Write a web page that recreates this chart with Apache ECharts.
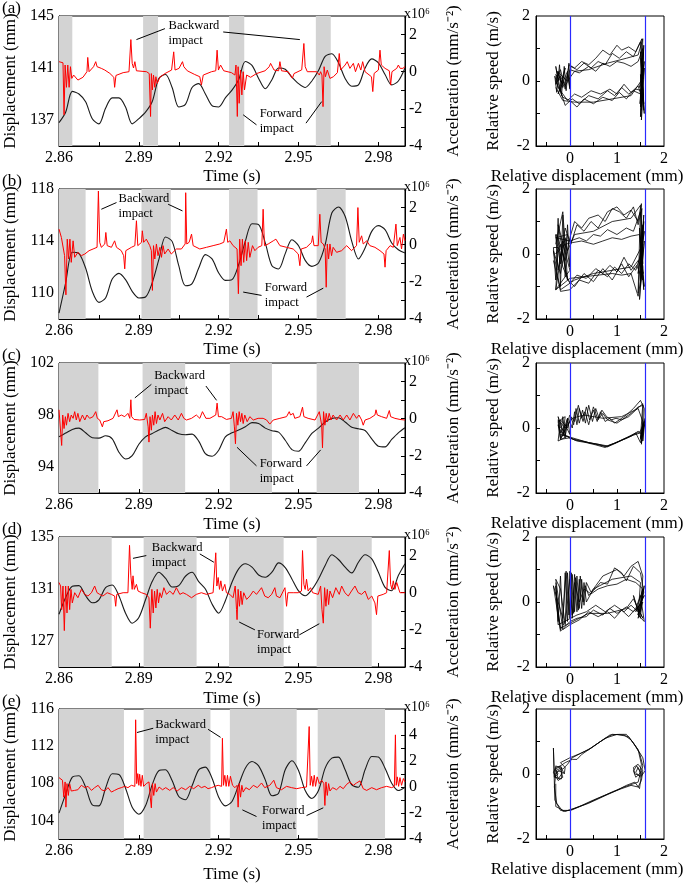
<!DOCTYPE html>
<html><head><meta charset="utf-8">
<script src="https://cdn.jsdelivr.net/npm/echarts@6/dist/echarts.min.js"></script>
<style>html,body{margin:0;padding:0;background:#fff}#c{width:685px;height:883px}</style>
</head><body><div id="c"></div><script>
// ---------------- DATA ----------------
const timeGrid = [2.86,2.8625,2.865,2.8675,2.87,2.8725,2.875,2.8775,2.88,2.8825,2.885,2.8875,2.89,2.8925,2.895,2.8975,2.9,2.9025,2.905,2.9075,2.91,2.9125,2.915,2.9175,2.92,2.9225,2.925,2.9275,2.93,2.9325,2.935,2.9375,2.94,2.9425,2.945,2.9475,2.95,2.9525,2.955,2.9575,2.96,2.9625,2.965,2.9675,2.97,2.9725,2.975,2.9775,2.98,2.9825,2.985,2.9875,2.99];
const timeTicks = [2.86,2.89,2.92,2.95,2.98];
const timeMinor = [2.875,2.89,2.905,2.92,2.935,2.95,2.965,2.98];

const dispA = [136.8,137.6,139.2,139.0,138.4,137.1,136.7,137.9,138.7,138.7,138.0,136.7,137.1,137.6,138.4,140.2,140.5,139.5,138.0,138.2,139.5,139.8,139.0,138.1,138.0,138.7,139.3,140.1,141.5,141.2,140.2,139.4,140.1,141.0,140.9,140.3,139.8,139.5,140.0,140.8,141.9,142.1,141.4,140.2,139.6,139.7,141.0,141.7,141.4,140.5,139.7,140.0,141.0];
const dispB = [108.46,110.77,113.13,113.03,111.92,110.13,109.28,109.62,111.08,111.51,111.03,110.13,109.62,109.69,110.77,112.56,114.31,113.97,112.10,110.56,110.72,111.92,112.95,112.62,111.54,110.97,111.03,112.18,113.97,115.33,115.26,113.85,112.10,111.85,113.03,114.10,113.64,112.51,112.05,112.31,113.72,116.15,116.62,115.90,113.97,112.62,113.46,114.74,115.18,114.87,113.85,113.33,113.08];
const dispC = [96.32,96.61,96.89,96.99,96.63,96.25,96.22,96.40,96.17,95.14,94.62,94.88,95.75,96.32,96.58,96.84,97.05,96.81,96.55,96.48,96.53,95.99,95.03,94.83,95.29,96.32,96.63,96.84,97.10,97.41,97.35,96.99,96.79,96.68,96.06,95.34,95.21,95.86,96.58,96.99,97.46,97.74,97.79,97.46,97.05,96.94,96.81,96.17,95.60,95.55,96.12,96.63,97.02];
const dispD = [129.06,130.35,131.21,131.26,130.48,129.94,130.17,131.10,131.31,130.48,129.14,128.37,128.81,130.17,131.57,132.29,131.83,131.15,131.26,131.98,132.29,131.57,131.00,129.84,129.14,130.10,131.52,132.55,132.94,132.68,132.08,131.90,132.29,133.01,132.65,131.77,130.85,130.48,130.95,131.77,132.81,133.63,133.27,132.68,132.24,133.06,133.63,133.32,132.29,131.13,130.87,132.03,132.94];
const dispE = [104.78,106.83,108.66,108.81,107.58,105.68,105.57,107.47,109.02,108.95,107.47,105.42,104.67,105.57,107.83,109.35,109.45,108.30,106.58,106.22,107.73,109.45,109.74,108.55,106.50,105.57,106.04,107.83,109.63,110.35,109.88,108.37,106.65,106.94,109.45,110.42,109.38,107.22,106.36,107.22,109.63,110.71,110.82,109.45,107.83,107.58,109.45,110.89,110.82,109.63,108.01,107.22,107.58];

const accA = [[2.8600,0.54],[2.8615,0.48],[2.8619,-2.32],[2.8623,0.36],[2.8628,-0.84],[2.8633,0.36],[2.8638,-0.84],[2.8643,0.27],[2.8648,-0.36],[2.8655,-0.18],[2.8671,-0.45],[2.8690,-0.30],[2.8705,0],[2.8708,0.77],[2.8713,0],[2.8730,0.27],[2.8738,0.54],[2.8743,0.27],[2.8759,0.18],[2.8772,0.09],[2.8791,-0.09],[2.8806,-0.3],[2.8809,-0.84],[2.8814,-0.2],[2.8841,-0.05],[2.8863,0],[2.8870,1.73],[2.8875,0.45],[2.8880,0.2],[2.8885,0.54],[2.8891,0.05],[2.8929,0],[2.8939,-0.1],[2.8944,-2.41],[2.8947,-0.1],[2.8951,-0.98],[2.8955,-0.18],[2.8960,-0.84],[2.8964,-0.27],[2.8969,-0.63],[2.8979,-0.3],[2.8998,-0.1],[2.9023,0.09],[2.9031,1.07],[2.9036,0.09],[2.9051,0.18],[2.9064,0.54],[2.9069,0.27],[2.9082,0.05],[2.9110,-0.15],[2.9129,-0.27],[2.9135,-0.72],[2.9142,-0.18],[2.9173,0],[2.9189,0.05],[2.9194,1.16],[2.9199,0.09],[2.9207,0.36],[2.9219,0.05],[2.9248,-0.05],[2.9261,-0.18],[2.9265,0.36],[2.9270,-2.41],[2.9273,0.27],[2.9277,-1.70],[2.9282,0.09],[2.9287,-1.25],[2.9292,0],[2.9297,-0.98],[2.9305,-0.18],[2.9320,-0.3],[2.9342,-0.1],[2.9374,0.05],[2.9390,0.27],[2.9395,0.45],[2.9408,0.09],[2.9425,0.05],[2.9430,0.54],[2.9436,0.05],[2.9461,0],[2.9470,-0.2],[2.9477,-0.35],[2.9483,-0.1],[2.9512,0.1],[2.9520,1.52],[2.9525,0.27],[2.9533,0],[2.9568,0],[2.9578,-0.18],[2.9583,0],[2.9588,-0.18],[2.9592,-1.88],[2.9596,0.27],[2.9601,-0.27],[2.9608,0.09],[2.9618,-0.36],[2.9631,-0.27],[2.9646,-0.05],[2.9653,0.98],[2.9658,0.09],[2.9675,0.36],[2.9683,0.54],[2.9693,0.18],[2.9706,0.45],[2.9714,0],[2.9725,0.45],[2.9734,0.09],[2.9741,0.54],[2.9750,0],[2.9774,-0.27],[2.9779,-1.07],[2.9784,-0.09],[2.9800,0.09],[2.9806,1.16],[2.9811,0.36],[2.9825,0.18],[2.9841,0.05],[2.9846,-0.72],[2.9851,0],[2.9869,0.18],[2.9875,0.36],[2.9882,0.18],[2.9892,0.18],[2.9900,0.27]];
const accB = [[2.8600,0.84],[2.8609,0.39],[2.8615,0.30],[2.8621,-0.59],[2.8626,-2.70],[2.8631,0.30],[2.8636,-0.77],[2.8641,0.30],[2.8646,-0.95],[2.8653,0.21],[2.8659,-0.68],[2.8671,-0.41],[2.8684,-0.59],[2.8697,-0.50],[2.8713,-0.32],[2.8728,-0.23],[2.8743,-0.14],[2.8748,2.89],[2.8753,0.13],[2.8759,-0.14],[2.8772,0.04],[2.8776,0.66],[2.8781,-0.05],[2.8797,-0.14],[2.8809,0.21],[2.8816,-0.14],[2.8834,-0.32],[2.8843,-0.59],[2.8847,-1.30],[2.8851,-0.32],[2.8872,-0.14],[2.8885,-0.05],[2.8891,1.29],[2.8896,-0.05],[2.8910,0.13],[2.8913,0.75],[2.8918,0.13],[2.8928,0.30],[2.8941,-0.05],[2.8947,-0.32],[2.8951,-2.46],[2.8955,-0.05],[2.8960,-0.77],[2.8966,0.04],[2.8972,-0.59],[2.8979,-0.14],[2.8985,-0.68],[2.8991,-0.05],[2.8997,-0.50],[2.9010,-0.23],[2.9022,-0.50],[2.9041,-0.23],[2.9060,-0.23],[2.9074,0.04],[2.9076,2.80],[2.9080,0.04],[2.9089,0.13],[2.9098,0.57],[2.9104,-0.05],[2.9129,-0.23],[2.9154,-0.14],[2.9179,-0.05],[2.9204,0.04],[2.9219,0.13],[2.9229,0.84],[2.9234,0.13],[2.9242,0.21],[2.9254,-0.05],[2.9269,-0.23],[2.9274,-2.64],[2.9279,0.30],[2.9284,-1.13],[2.9289,0.30],[2.9294,-0.95],[2.9300,0.21],[2.9305,-0.86],[2.9311,0.13],[2.9317,-0.68],[2.9327,-0.05],[2.9336,-0.32],[2.9348,-0.14],[2.9362,-0.05],[2.9367,1.91],[2.9372,-0.05],[2.9386,0.04],[2.9405,0.21],[2.9415,0.30],[2.9430,-0.05],[2.9455,-0.14],[2.9480,-0.23],[2.9499,-0.50],[2.9505,-1.13],[2.9510,-0.23],[2.9530,-0.14],[2.9549,0.13],[2.9553,0.48],[2.9558,-0.05],[2.9574,-0.05],[2.9580,1.64],[2.9585,0.13],[2.9593,0.04],[2.9600,-0.23],[2.9604,-2.29],[2.9608,0.04],[2.9613,-0.77],[2.9618,0.04],[2.9624,-0.59],[2.9630,-0.14],[2.9643,-0.41],[2.9662,-0.32],[2.9681,-0.05],[2.9699,-0.32],[2.9718,-0.05],[2.9723,2.00],[2.9728,0.13],[2.9737,0.48],[2.9743,0.04],[2.9756,0.21],[2.9768,-0.05],[2.9787,-0.14],[2.9806,-0.32],[2.9821,-0.50],[2.9825,-1.21],[2.9829,-0.32],[2.9844,-0.05],[2.9856,-0.14],[2.9866,1.11],[2.9871,-0.05],[2.9881,0.39],[2.9887,-0.23],[2.9894,0.57],[2.9900,0.21]];
const accC = [[2.8600,0.48],[2.8606,0.38],[2.8610,-1.44],[2.8614,0.20],[2.8619,-0.53],[2.8624,0.11],[2.8628,-0.35],[2.8634,0.29],[2.8640,-0.16],[2.8646,0.20],[2.8653,0.02],[2.8659,0.38],[2.8665,-0.07],[2.8671,0.29],[2.8678,-0.16],[2.8688,0.20],[2.8697,-0.07],[2.8705,0.20],[2.8715,0.02],[2.8728,0.11],[2.8738,0.38],[2.8744,0.02],[2.8753,-0.07],[2.8763,-0.44],[2.8768,-0.16],[2.8784,-0.11],[2.8803,0.02],[2.8818,0.48],[2.8823,0.11],[2.8834,0.20],[2.8847,0.11],[2.8859,0.29],[2.8866,0.02],[2.8870,1.02],[2.8873,0.11],[2.8882,-0.04],[2.8903,-0.07],[2.8922,-0.04],[2.8928,0.29],[2.8935,-0.44],[2.8938,-1.26],[2.8942,0.11],[2.8947,-0.62],[2.8951,0.20],[2.8956,-0.35],[2.8961,0.38],[2.8966,-0.26],[2.8972,0.20],[2.8979,-0.07],[2.8989,0.29],[2.8997,-0.16],[2.9010,0.11],[2.9022,-0.07],[2.9035,0.20],[2.9048,-0.07],[2.9060,0.29],[2.9069,0.02],[2.9079,-0.07],[2.9098,0.02],[2.9116,0.20],[2.9129,0.02],[2.9139,0.38],[2.9145,0.48],[2.9152,0.02],[2.9167,0.02],[2.9189,0.20],[2.9194,0.84],[2.9199,0.11],[2.9211,0.11],[2.9229,-0.04],[2.9248,0.02],[2.9254,0.38],[2.9259,-0.44],[2.9263,-1.35],[2.9267,0.29],[2.9272,-0.35],[2.9277,0.38],[2.9282,-0.16],[2.9287,0.29],[2.9292,-0.26],[2.9298,0.20],[2.9307,-0.16],[2.9317,0.11],[2.9330,-0.07],[2.9348,0.02],[2.9367,0.02],[2.9380,-0.07],[2.9392,-0.29],[2.9405,-0.07],[2.9430,0.02],[2.9455,0.11],[2.9465,0.38],[2.9470,0.20],[2.9480,0.29],[2.9486,0.02],[2.9505,0.11],[2.9515,0.62],[2.9520,0.11],[2.9536,0.02],[2.9562,-0.07],[2.9578,0.38],[2.9583,0.29],[2.9587,-0.35],[2.9590,-1.57],[2.9594,0.38],[2.9599,-0.35],[2.9604,0.29],[2.9609,-0.16],[2.9615,0.29],[2.9622,-0.07],[2.9630,0.20],[2.9643,-0.07],[2.9656,0.20],[2.9668,-0.07],[2.9681,0.20],[2.9693,-0.07],[2.9706,0.29],[2.9718,0.02],[2.9727,0.20],[2.9737,-0.07],[2.9743,-0.35],[2.9750,-0.07],[2.9768,0.02],[2.9787,0.20],[2.9791,0.48],[2.9796,0.20],[2.9812,0.11],[2.9831,0.02],[2.9841,0.44],[2.9846,0.11],[2.9862,0.02],[2.9881,-0.04],[2.9900,-0.07]];
const accD = [[2.8600,0.55],[2.8606,0.36],[2.8610,-0.91],[2.8615,0.36],[2.8620,-2.04],[2.8625,0.36],[2.8630,-1.09],[2.8635,0.36],[2.8640,-0.91],[2.8645,0.18],[2.8650,-0.55],[2.8659,0],[2.8671,-0.27],[2.8684,0.18],[2.8697,-0.09],[2.8709,-0.18],[2.8722,0],[2.8734,0.36],[2.8743,0],[2.8753,-0.09],[2.8765,-0.18],[2.8781,0],[2.8797,-0.09],[2.8809,-0.18],[2.8813,-0.73],[2.8817,-0.09],[2.8841,0],[2.8859,0],[2.8865,2.55],[2.8870,0.91],[2.8875,0.18],[2.8878,0.91],[2.8883,0.18],[2.8891,0.45],[2.8897,0.09],[2.8910,0],[2.8928,-0.09],[2.8938,-0.27],[2.8943,-1.91],[2.8949,0.18],[2.8954,-1.09],[2.8959,0.09],[2.8964,-0.82],[2.8969,0.18],[2.8974,-0.55],[2.8979,0],[2.8985,-0.27],[2.8994,0.27],[2.9004,-0.09],[2.9016,0.09],[2.9029,-0.09],[2.9041,0.27],[2.9054,-0.09],[2.9066,0],[2.9079,-0.09],[2.9098,-0.27],[2.9116,-0.09],[2.9135,0],[2.9154,-0.09],[2.9179,0],[2.9185,0.09],[2.9189,2.15],[2.9193,0.36],[2.9198,0.82],[2.9203,0.18],[2.9208,0.64],[2.9214,0.09],[2.9223,0.45],[2.9229,0],[2.9242,-0.09],[2.9254,-0.27],[2.9262,0.36],[2.9267,-0.91],[2.9269,-1.45],[2.9273,0.18],[2.9278,-0.73],[2.9283,0.09],[2.9288,-0.64],[2.9294,0],[2.9305,-0.36],[2.9317,-0.18],[2.9330,0.09],[2.9342,-0.09],[2.9361,0.27],[2.9373,-0.18],[2.9386,-0.27],[2.9399,-0.09],[2.9411,0.27],[2.9417,-0.18],[2.9430,-0.27],[2.9449,0.27],[2.9455,-0.73],[2.9460,0],[2.9480,0],[2.9499,0],[2.9511,0.09],[2.9515,2.27],[2.9520,0.45],[2.9525,0.18],[2.9530,0.73],[2.9536,0.09],[2.9545,0.27],[2.9553,0],[2.9574,-0.09],[2.9583,0.36],[2.9588,-0.91],[2.9593,-1.64],[2.9598,0.27],[2.9603,-0.73],[2.9608,0.18],[2.9613,-0.64],[2.9618,0.09],[2.9628,-0.27],[2.9640,0.27],[2.9653,-0.09],[2.9662,0.36],[2.9674,0],[2.9687,-0.18],[2.9699,0.09],[2.9712,0.36],[2.9724,0],[2.9737,-0.09],[2.9750,0.09],[2.9762,-0.36],[2.9775,-0.18],[2.9787,-0.55],[2.9793,-1.18],[2.9798,-0.18],[2.9818,-0.09],[2.9831,0],[2.9841,2.27],[2.9846,0.45],[2.9851,0.18],[2.9856,0.64],[2.9862,0.18],[2.9869,0.55],[2.9881,0],[2.9900,0]];
const accE = [[2.8600,0.72],[2.8613,0.52],[2.8618,-0.78],[2.8623,0.39],[2.8626,-1.55],[2.8630,0.26],[2.8635,-0.65],[2.8640,0.26],[2.8646,-0.31],[2.8659,-0.26],[2.8671,-0.21],[2.8684,0.13],[2.8697,-0.05],[2.8709,0.05],[2.8722,-0.26],[2.8734,-0.05],[2.8747,0.13],[2.8759,-0.21],[2.8772,-0.31],[2.8784,-0.05],[2.8797,-0.39],[2.8809,-0.26],[2.8822,-0.13],[2.8834,-0.05],[2.8847,0.05],[2.8859,-0.05],[2.8872,0.13],[2.8885,0.05],[2.8888,5.17],[2.8892,0.26],[2.8896,1.03],[2.8900,0.13],[2.8903,0.98],[2.8908,0.05],[2.8913,0.90],[2.8918,0.05],[2.8928,0.26],[2.8938,0.39],[2.8943,-0.78],[2.8947,-1.60],[2.8951,0.26],[2.8956,-0.65],[2.8961,0.26],[2.8966,-0.39],[2.8976,0],[2.8989,-0.21],[2.9001,-0.05],[2.9016,-0.26],[2.9029,-0.05],[2.9044,-0.31],[2.9060,-0.05],[2.9076,-0.21],[2.9091,0.05],[2.9106,-0.13],[2.9123,0.13],[2.9135,-0.05],[2.9148,0.05],[2.9160,-0.13],[2.9173,-0.05],[2.9185,0.05],[2.9198,0.13],[2.9211,0.05],[2.9214,3.75],[2.9218,0.13],[2.9223,0.90],[2.9228,0.05],[2.9233,0.90],[2.9238,0.05],[2.9244,0.83],[2.9252,0.13],[2.9261,-0.05],[2.9269,0.13],[2.9273,-1.55],[2.9277,0.26],[2.9282,-0.78],[2.9287,0.13],[2.9292,-0.39],[2.9302,-0.05],[2.9315,-0.21],[2.9330,0.13],[2.9345,-0.05],[2.9361,0.31],[2.9373,-0.05],[2.9392,0.13],[2.9407,0.52],[2.9417,-0.05],[2.9436,-0.21],[2.9455,0.05],[2.9474,-0.05],[2.9493,-0.13],[2.9511,-0.05],[2.9530,0],[2.9536,0.13],[2.9540,4.65],[2.9544,0.13],[2.9549,0.83],[2.9554,0.05],[2.9559,0.90],[2.9564,0.05],[2.9570,0.78],[2.9578,0.26],[2.9587,0.52],[2.9595,0.26],[2.9599,-1.42],[2.9603,0.39],[2.9608,-0.65],[2.9613,0.26],[2.9618,-0.31],[2.9628,-0.05],[2.9643,-0.21],[2.9656,0.05],[2.9668,-0.13],[2.9681,0.21],[2.9693,0.39],[2.9706,0.13],[2.9718,0.31],[2.9731,0.47],[2.9743,-0.13],[2.9756,-0.26],[2.9775,-0.05],[2.9793,-0.21],[2.9812,-0.05],[2.9831,0.05],[2.9850,-0.05],[2.9860,0.05],[2.9864,4.01],[2.9867,0.13],[2.9871,0.78],[2.9876,0.05],[2.9881,0.72],[2.9887,0.13],[2.9894,0.65],[2.9900,0.39]];

const bandsA = [[2.86,2.8650],[2.8916,2.8972],[2.9239,2.9296],[2.9565,2.9621]];
const bandsB = [[2.86,2.8700],[2.8910,2.9020],[2.9239,2.9346],[2.9568,2.9677]];
const bandsC = [[2.86,2.8748],[2.8914,2.9074],[2.9242,2.9400],[2.9568,2.9727]];
const bandsD = [[2.86,2.8798],[2.8918,2.9117],[2.9239,2.9444],[2.9568,2.9775]];
const bandsE = [[2.86,2.8844],[2.8918,2.9169],[2.9242,2.9493],[2.9572,2.9825]];

const phaseA = [[-0.25,0.0],[-0.3,0.45],[-0.2,-0.3],[-0.1,0.4],[-0.25,-0.4],[-0.05,0.3],[0.0,-0.2],[0.02,0.45],[0.15,0.35],[0.3,0.55],[0.45,0.4],[0.6,0.6],[0.75,0.5],[0.9,0.85],[1.05,0.7],[1.2,0.9],[1.35,0.75],[1.5,1.2],[1.56,-0.5],[1.5,0.9],[1.58,-1.0],[1.52,0.6],[1.57,-0.7],[1.5,0.2],[1.55,-0.3],[1.4,-0.25],[1.25,-0.4],[1.1,-0.2],[0.95,-0.45],[0.8,-0.3],[0.6,-0.55],[0.4,-0.45],[0.2,-0.7],[0.05,-0.55],[-0.1,-0.75],[-0.2,-0.3],
 [-0.3,0.2],[-0.15,-0.1],[-0.28,0.3],[-0.05,0.0],[0.0,0.35],[0.2,0.25],[0.4,0.45],[0.55,0.3],[0.7,0.55],[0.85,0.45],[1.0,0.6],[1.15,0.55],[1.3,0.45],[1.45,0.6],[1.55,1.0],[1.5,-0.8],[1.58,0.4],[1.52,-1.2],[1.56,0.5],[1.5,-0.4],[1.35,-0.3],[1.2,-0.55],[1.05,-0.35],[0.9,-0.6],[0.7,-0.5],[0.5,-0.7],[0.3,-0.55],[0.15,-0.8],[0.0,-0.6],[-0.15,-0.5],[-0.3,0.0],
 [-0.2,0.35],[-0.1,-0.25],[-0.02,0.5],[0.1,0.4],[0.25,0.6],[0.4,0.5],[0.55,0.7],[0.7,0.95],[0.85,0.8],[1.0,1.1],[1.1,0.95],[1.25,1.05],[1.4,0.9],[1.53,1.3],[1.5,0.0],[1.57,-0.9],[1.51,0.7],[1.55,-0.6],[1.45,-0.15],[1.3,-0.35],[1.15,-0.1],[1.0,-0.4],[0.85,-0.25],[0.65,-0.4],[0.45,-0.3],[0.25,-0.5],[0.1,-0.4],[-0.05,-0.6],[-0.25,-0.2],[-0.32,0.15],
 [-0.32,0.1],[-0.28,-0.35],[-0.22,0.5],[-0.18,-0.45],[-0.12,0.45],[-0.08,-0.3],[-0.02,0.55],[0.0,-0.25],[-0.05,0.2],[-0.15,-0.2],[-0.25,0.3],[-0.3,-0.1],[-0.2,0.15],[-0.1,-0.15],[0.0,0.1],[0.1,0.3],[0.4,0.35],[0.8,0.55],[1.2,0.7],[1.45,0.8],[1.55,1.3],[1.5,-1.1],[1.57,1.1],[1.52,-0.9],[1.56,0.9],[1.49,-0.7],[1.58,0.6],[1.5,-0.5],[1.55,0.4],[1.48,-0.2],[1.56,0.1],[1.3,-0.45],[0.9,-0.55],[0.5,-0.65],[0.1,-0.65],[-0.15,-0.6],[-0.3,-0.2]];
const phaseB = [[-0.3,0.3],[-0.15,1.3],[-0.05,-0.8],[-0.25,0.9],[0.0,-0.5],[-0.3,-1.1],[-0.1,0.8],[0.02,0.3],[0.15,0.9],[0.3,0.7],[0.45,1.0],[0.6,0.8],[0.8,1.3],[1.0,1.45],[1.15,1.2],[1.3,1.35],[1.45,1.0],[1.52,1.55],[1.5,-0.6],[1.57,1.0],[1.48,-1.4],[1.58,0.4],[1.5,-0.9],[1.55,0.2],[1.4,-0.5],[1.25,-0.3],[1.1,-0.6],[0.95,-0.4],[0.8,-0.7],[0.6,-0.5],[0.4,-0.9],[0.2,-0.8],[0.0,-1.1],[-0.2,-1.15],[-0.35,0.1],
 [-0.2,-0.6],[-0.05,0.6],[-0.3,0.5],[0.0,0.4],[0.2,0.5],[0.35,0.4],[0.5,0.6],[0.65,0.55],[0.8,0.75],[1.0,0.6],[1.2,0.8],[1.35,0.7],[1.5,1.3],[1.55,-0.3],[1.48,0.8],[1.57,-1.1],[1.5,0.5],[1.56,-0.6],[1.45,-0.2],[1.3,-0.5],[1.15,-0.1],[1.0,-0.55],[0.85,-0.35],[0.7,-0.6],[0.55,-0.45],[0.35,-0.75],[0.15,-0.65],[0.0,-0.9],[-0.15,-0.4],[-0.28,0.6],
 [-0.1,-0.2],[0.0,0.5],[0.1,1.0],[0.25,0.8],[0.4,1.1],[0.6,1.2],[0.75,1.0],[0.9,1.4],[1.05,1.3],[1.2,1.1],[1.35,1.45],[1.45,0.9],[1.53,1.4],[1.5,-0.2],[1.58,-1.0],[1.5,0.3],[1.55,-0.8],[1.42,-0.35],[1.25,-0.7],[1.1,-0.3],[0.9,-0.8],[0.7,-0.45],[0.5,-0.85],[0.3,-0.6],[0.1,-1.0],[-0.05,-0.8],[-0.2,0.3],
 [-0.3,0.0],[-0.1,0.3],[0.05,0.35],[0.25,0.4],[0.5,0.3],[0.7,0.4],[0.9,0.5],[1.1,0.45],[1.3,0.55],[1.48,0.6],[1.55,-0.4],[1.45,-1.3],[1.3,-0.6],[1.1,-0.65],[0.9,-0.6],[0.6,-0.65],[0.3,-0.7],[0.0,-0.75],[-0.3,-1.1],[-0.25,0.2],
 [-0.35,0.2],[-0.3,-0.8],[-0.25,1.1],[-0.2,-1.0],[-0.15,1.2],[-0.1,-0.7],[-0.05,0.9],[0.0,-0.4],[-0.1,0.5],[-0.2,-0.3],[-0.3,0.6],[-0.25,-0.5],[-0.15,0.4],[-0.05,0.1],[0.1,0.6],[0.5,0.7],[0.9,1.0],[1.3,1.1],[1.5,1.5],[1.45,-1.2],[1.57,1.2],[1.5,-1.0],[1.55,0.9],[1.45,-0.6],[1.58,0.7],[1.5,-0.3],[1.55,0.3],[1.3,-0.4],[0.9,-0.5],[0.5,-0.6],[0.1,-0.8],[-0.2,-1.1],[-0.35,-0.2]];
const phaseC = [[-0.2,0.0],[-0.25,0.35],[-0.1,-0.3],[-0.05,0.3],[-0.2,-0.35],[0.0,0.2],[0.05,0.0],[0.1,0.5],[0.15,0.1],[0.2,0.6],[0.28,0.2],[0.35,0.65],[0.42,0.25],[0.5,0.55],[0.58,0.2],[0.65,0.5],[0.75,0.2],[0.85,0.3],[0.95,0.15],[1.05,0.25],[1.2,0.4],[1.35,0.6],[1.5,0.85],[1.58,0.6],[1.55,-0.4],[1.6,0.3],[1.52,-0.2],[1.45,-0.1],[1.3,-0.25],[1.1,-0.38],[0.9,-0.5],[0.75,-0.6],[0.55,-0.52],[0.35,-0.45],[0.15,-0.4],[0.0,-0.3],[-0.2,-0.35],
 [-0.25,0.2],[-0.1,0.35],[-0.15,-0.25],[0.0,0.4],[0.08,0.1],[0.13,0.6],[0.2,0.15],[0.27,0.55],[0.33,0.15],[0.4,0.7],[0.48,0.2],[0.55,0.6],[0.62,0.3],[0.7,0.45],[0.8,0.25],[0.9,0.2],[1.0,0.15],[1.15,0.3],[1.3,0.45],[1.45,0.65],[1.56,0.7],[1.52,-0.5],[1.58,0.2],[1.5,-0.15],[1.35,-0.22],[1.15,-0.33],[0.95,-0.47],[0.75,-0.57],[0.55,-0.5],[0.3,-0.42],[0.1,-0.37],[-0.05,-0.25],[-0.25,-0.4],
 [-0.2,0.25],[-0.05,0.0],[0.02,0.35],[0.1,0.2],[0.18,0.7],[0.25,0.3],[0.32,0.5],[0.4,0.1],[0.5,0.65],[0.6,0.25],[0.68,0.55],[0.78,0.35],[0.88,0.25],[0.98,0.3],[1.1,0.25],[1.25,0.35],[1.4,0.55],[1.55,0.75],[1.5,-0.3],[1.57,0.1],[1.5,-0.45],[1.4,-0.15],[1.2,-0.3],[1.0,-0.45],[0.8,-0.58],[0.6,-0.5],[0.4,-0.45],[0.2,-0.38],[0.0,-0.32],[-0.2,-0.1],
 [-0.25,0.1],[-0.2,-0.3],[-0.15,0.35],[-0.1,-0.25],[-0.05,0.3],[0.0,-0.2],[-0.1,0.1],[-0.2,-0.15],[-0.25,0.25],[-0.1,0.0],[0.05,0.3],[0.3,0.4],[0.7,0.3],[1.1,0.35],[1.45,0.6],[1.55,0.2],[1.52,-0.45],[1.58,0.1],[1.5,-0.35],[1.56,0.15],[1.5,-0.1],[1.2,-0.32],[0.8,-0.55],[0.4,-0.45],[0.0,-0.28],[-0.2,-0.2]];
const phaseD = [[-0.3,0.6],[-0.25,-0.3],[-0.2,-0.85],[-0.1,-0.6],[-0.05,0.9],[0.0,-0.5],[0.05,0.85],[0.1,-0.3],[0.15,0.8],[0.2,-0.2],[0.25,0.7],[0.3,-0.1],[0.35,0.6],[0.45,0.3],[0.55,0.5],[0.7,0.8],[0.85,0.9],[1.0,1.0],[1.15,0.8],[1.3,1.1],[1.45,1.25],[1.55,0.8],[1.5,-0.3],[1.58,0.5],[1.45,-0.5],[1.55,0.0],[1.35,-0.3],[1.2,-0.15],[1.0,-0.35],[0.85,-0.2],[0.7,-0.4],[0.5,-0.25],[0.35,-0.45],[0.15,-0.5],[0.0,-0.6],[-0.2,-0.9],[-0.35,0.5],
 [-0.15,-0.5],[-0.08,0.95],[-0.02,-0.4],[0.03,0.9],[0.08,-0.35],[0.12,0.75],[0.18,-0.25],[0.22,0.8],[0.28,0.0],[0.33,0.5],[0.4,0.2],[0.5,0.35],[0.65,0.6],[0.8,0.55],[0.95,1.05],[1.1,0.9],[1.2,0.65],[1.35,1.1],[1.5,0.9],[1.57,0.3],[1.45,-0.4],[1.58,-0.6],[1.5,0.2],[1.4,-0.2],[1.25,-0.45],[1.1,-0.25],[0.95,-0.5],[0.8,-0.3],[0.6,-0.45],[0.4,-0.3],[0.2,-0.55],[0.0,-0.7],[-0.15,-0.85],[-0.3,0.7],
 [-0.2,0.4],[-0.1,-0.7],[0.0,0.7],[0.05,-0.5],[0.1,0.6],[0.2,0.0],[0.3,0.4],[0.45,0.25],[0.6,0.4],[0.8,0.5],[1.0,0.55],[1.2,0.7],[1.4,0.6],[1.55,0.4],[1.5,-0.5],[1.35,0.2],[1.45,-0.3],[1.3,-0.1],[1.15,-0.3],[0.95,-0.1],[0.75,-0.3],[0.55,-0.1],[0.35,-0.3],[0.15,-0.4],[-0.05,-0.55],[-0.25,-0.7],
 [-0.3,0.5],[-0.25,-0.6],[-0.2,0.8],[-0.15,-0.7],[-0.1,0.9],[-0.05,-0.6],[0.0,0.95],[0.05,-0.4],[0.1,0.85],[0.15,-0.3],[0.2,0.7],[0.25,-0.2],[0.3,0.6],[0.35,0.0],[0.5,0.4],[0.9,0.7],[1.3,0.8],[1.5,0.6],[1.45,-0.4],[1.55,0.4],[1.4,-0.3],[1.58,0.2],[1.45,-0.2],[1.55,-0.5],[1.35,0.1],[1.2,-0.2],[0.8,-0.35],[0.4,-0.35],[0.0,-0.65],[-0.2,-0.8],[-0.3,0.3]];
const phaseE = [[-0.3,0.0],[-0.2,0.15],[-0.15,-0.1],[-0.25,-0.2],[-0.35,0.05],[-0.3,0.2],[-0.2,0.25],[-0.12,0.0],[-0.1,0.2],[-0.2,0.35],[0.0,0.5],[0.2,0.62],[0.4,0.75],[0.6,0.95],[0.85,1.2],[1.05,1.22],[1.2,1.22],[1.35,0.95],[1.48,0.65],[1.55,0.25],[1.5,-0.05],[1.38,0.0],[1.35,0.2],[1.45,0.3],[1.55,0.1],[1.52,-0.2],[1.45,-0.4],[1.3,-0.35],[1.1,-0.45],[0.8,-0.62],[0.5,-0.8],[0.2,-1.0],[0.0,-1.12],[-0.2,-1.12],[-0.32,-0.8],[-0.35,0.8],[-0.33,-0.1],[-0.25,0.0],
 [-0.3,0.1],[-0.18,0.2],[-0.18,-0.15],[-0.32,-0.1],[-0.3,0.25],[-0.15,0.15],[-0.05,0.3],[0.05,0.5],[0.25,0.65],[0.45,0.8],[0.65,1.0],[0.9,1.22],[1.15,1.2],[1.3,1.05],[1.45,0.75],[1.52,0.3],[1.48,0.0],[1.4,-0.1],[1.35,0.1],[1.42,0.25],[1.5,0.05],[1.45,-0.25],[1.35,-0.3],[1.15,-0.4],[0.9,-0.55],[0.6,-0.75],[0.3,-0.95],[0.05,-1.1],[-0.15,-1.15],[-0.28,-0.9],[-0.33,-0.4],[-0.3,0.0],
 [-0.25,0.1],[-0.15,0.05],[-0.25,-0.15],[-0.3,0.15],[-0.1,0.35],[0.05,0.45],[0.15,0.45],[0.25,0.6],[0.5,0.85],[0.75,1.1],[1.0,1.22],[1.25,1.15],[1.4,0.85],[1.55,0.5],[1.6,0.1],[1.5,-0.1],[1.4,0.05],[1.45,0.2],[1.52,0.0],[1.48,-0.45],[1.38,-0.25],[1.2,-0.35],[1.0,-0.5],[0.7,-0.7],[0.4,-0.9],[0.1,-1.05],[-0.1,-1.15],[-0.3,-1.0],[-0.3,-0.3]];
const clearanceLines = [0, 1.6];

// annotation anchors (data coordinates on the acceleration axis)
const annA = {texts:[[2.9010,2.05,'Backward\nimpact'],[2.9352,-2.68,'Forward\nimpact']], arrows:[[[2.8998,2.32],[2.8891,1.73]],[[2.9217,2.14],[2.9505,1.73]],[[2.9342,-2.86],[2.9292,-2.32]],[[2.9528,-2.77],[2.9587,-1.61]]]};
const annB = {texts:[[2.8822,2.05,'Backward\nimpact'],[2.9371,-2.73,'Forward\nimpact']], arrows:[[[2.8816,2.27],[2.8759,1.91]],[[2.9010,2.18],[2.9064,1.82]],[[2.9361,-2.73],[2.9292,-2.55]],[[2.9530,-2.82],[2.9593,-2.34]]]};
const annC = {texts:[[2.8956,1.90,'Backward\nimpact'],[2.9352,-2.85,'Forward\nimpact']], arrows:[[[2.8947,1.85],[2.8885,1.12]],[[2.9152,1.76],[2.9192,0.99]],[[2.9342,-2.54],[2.9269,-1.54]],[[2.9530,-2.54],[2.9583,-1.68]]]};
const annD = {texts:[[2.8947,2.04,'Backward\nimpact'],[2.9342,-2.69,'Forward\nimpact']], arrows:[[[2.8928,2.0],[2.8878,1.85]],[[2.9129,2.09],[2.9182,1.64]],[[2.9336,-2.0],[2.9277,-1.58]],[[2.9503,-2.27],[2.9578,-1.67]]]};
const annE = {texts:[[2.8960,4.19,'Backward\nimpact'],[2.9361,-2.38,'Forward\nimpact']], arrows:[[[2.8954,4.52],[2.8893,4.19]],[[2.9160,4.44],[2.9207,3.82]],[[2.9342,-2.27],[2.9289,-1.76]],[[2.9530,-2.2],[2.9593,-1.6]]]};

const rows = [
 {label:'(a)', disp:dispA, dmin:135, dmax:145, dLabels:[137,141,145], dTicks:[137,139,141,143], acc:accA, amin:-4, amax:3, aLabels:[-4,-2,0,2], aTicks:[-3,-2,-1,0,1,2], bands:bandsA, phase:phaseA, ann:annA},
 {label:'(b)', disp:dispB, dmin:108, dmax:118, dLabels:[110,114,118], dTicks:[110,112,114,116], acc:accB, amin:-4, amax:3, aLabels:[-4,-2,0,2], aTicks:[-3,-2,-1,0,1,2], bands:bandsB, phase:phaseB, ann:annB},
 {label:'(c)', disp:dispC, dmin:92, dmax:102, dLabels:[94,98,102], dTicks:[94,96,98,100], acc:accC, amin:-4, amax:3, aLabels:[-4,-2,0,2], aTicks:[-3,-2,-1,0,1,2], bands:bandsC, phase:phaseC, ann:annC},
 {label:'(d)', disp:dispD, dmin:125, dmax:135, dLabels:[127,131,135], dTicks:[127,129,131,133], acc:accD, amin:-4, amax:3, aLabels:[-4,-2,0,2], aTicks:[-3,-2,-1,0,1,2], bands:bandsD, phase:phaseD, ann:annD},
 {label:'(e)', disp:dispE, dmin:102, dmax:116, dLabels:[104,108,112,116], dTicks:[104,106,108,110,112,114], acc:accE, amin:-4, amax:6, aLabels:[-4,-2,0,2,4], aTicks:[-3,-2,-1,0,1,2,3,4,5], bands:bandsE, phase:phaseE, ann:annE}
];
const phaseXLabels = [0,1,2], phaseXTicks = [-0.5,0,0.5,1,1.5];
const phaseYLabels = [-2,0,2], phaseYTicks = [-1,0,1];

// ---------------- LAYOUT / STYLE ----------------
const FONT = 'Liberation Serif';
const rowTops = [16,189,363,537,709];
const timeNameGaps = [22,22,23,23,27];
const H = 130;
const tickFont = {fontFamily:FONT, fontSize:16, color:'#000'};
const nameFont = {fontFamily:FONT, fontSize:17, color:'#000'};
const axLine = {show:true, onZero:false, lineStyle:{color:'#000', width:1}};
const gridBase = {show:true, borderColor:'#000', borderWidth:1, backgroundColor:'rgba(0,0,0,0)', containLabel:false, outerBoundsMode:'none'};

const grids=[], xAxes=[], yAxes=[], series=[], graphics=[];
rows.forEach((r,i)=>{
  const T = rowTops[i];
  grids.push(Object.assign({left:59, top:T, width:346, height:H}, gridBase));
  grids.push(Object.assign({left:536, top:T, width:128, height:H}, gridBase));
  xAxes.push({gridIndex:2*i, type:'value', min:2.86, max:2.99, name:'Time (s)', nameLocation:'middle', nameGap:timeNameGaps[i], nameTextStyle:nameFont,
    axisLine:axLine, splitLine:{show:false},
    axisTick:{show:true, inside:true, length:4, customValues:timeMinor, lineStyle:{color:'#000'}},
    axisLabel:Object.assign({customValues:timeTicks, formatter:v=>v.toFixed(2), margin:4}, tickFont)});
  xAxes.push({gridIndex:2*i+1, type:'value', min:-0.72, max:2, name:'Relative displacement (mm)', nameLocation:'middle', nameGap:14,
    nameTextStyle:Object.assign({padding:[0,26,0,0]}, nameFont),
    axisLine:axLine, splitLine:{show:false},
    axisTick:{show:true, inside:true, length:4, customValues:phaseXTicks, lineStyle:{color:'#000'}},
    axisLabel:Object.assign({customValues:phaseXLabels, margin:5}, tickFont)});
  yAxes.push({gridIndex:2*i, type:'value', position:'left', min:r.dmin, max:r.dmax, name:'Displacement (mm)', nameLocation:'middle', nameRotate:90, nameGap:40, nameTextStyle:nameFont,
    axisLine:axLine, splitLine:{show:false},
    axisTick:{show:true, inside:true, length:4, customValues:r.dTicks, lineStyle:{color:'#000'}},
    axisLabel:Object.assign({customValues:r.dLabels, margin:5}, tickFont)});
  yAxes.push({gridIndex:2*i, type:'value', position:'right', min:r.amin, max:r.amax, name:'Acceleration (mm/s⁻²)', nameLocation:'middle', nameRotate:90, nameGap:40, nameTextStyle:nameFont,
    axisLine:axLine, splitLine:{show:false},
    axisTick:{show:true, inside:true, length:4, customValues:r.aTicks, lineStyle:{color:'#000'}},
    axisLabel:Object.assign({customValues:r.aLabels, margin:4}, tickFont)});
  yAxes.push({gridIndex:2*i+1, type:'value', min:-2, max:2, name:'Relative speed (m/s)', nameLocation:'middle', nameRotate:90, nameGap:34, nameTextStyle:nameFont,
    axisLine:axLine, splitLine:{show:false},
    axisTick:{show:true, inside:true, length:4, customValues:phaseYTicks, lineStyle:{color:'#000'}},
    axisLabel:Object.assign({customValues:phaseYLabels, margin:6}, tickFont)});

  series.push({type:'line', xAxisIndex:2*i, yAxisIndex:3*i, data:[], z:1, silent:true,
    markArea:{silent:true, itemStyle:{color:'#d3d3d3', opacity:1}, data:r.bands.map(b=>[{xAxis:b[0]},{xAxis:b[1]}])}});
  series.push({type:'line', xAxisIndex:2*i, yAxisIndex:3*i, z:3, showSymbol:false, smooth:0.3, silent:true,
    data:timeGrid.map((t,k)=>[t, r.disp[k]]), lineStyle:{color:'#1a1a1a', width:1.1}});
  series.push({type:'line', xAxisIndex:2*i, yAxisIndex:3*i+1, z:4, showSymbol:false, silent:true,
    data:r.acc, lineStyle:{color:'#ff0000', width:1},
    markLine:{silent:true, symbol:['none','arrow'], symbolSize:[0,7], animation:false,
      lineStyle:{color:'#000', width:1, type:'solid'}, label:{show:false},
      data:r.ann.arrows.map(a=>[{coord:a[0]},{coord:a[1]}])},
    markPoint:{silent:true, symbol:'rect', symbolSize:1, itemStyle:{color:'rgba(0,0,0,0)'},
      data:r.ann.texts.map(tx=>({coord:[tx[0],tx[1]], label:{show:true, position:'right', distance:0, align:'left', formatter:tx[2], fontFamily:FONT, fontSize:12.5, lineHeight:15, color:'#000'}}))}});
  series.push({type:'line', xAxisIndex:2*i+1, yAxisIndex:3*i+2, z:3, showSymbol:false, silent:true,
    data:r.phase, lineStyle:{color:'#000', width:0.8}});
  series.push({type:'line', xAxisIndex:2*i+1, yAxisIndex:3*i+2, z:6, data:[], silent:true,
    markLine:{silent:true, symbol:'none', animation:false, lineStyle:{color:'#2a2aff', width:1.2, type:'solid', opacity:1}, label:{show:false},
      data:clearanceLines.map(v=>({xAxis:v}))}});

  graphics.push({type:'text', left:2, top:T-16, style:{text:r.label, font:'17px "Liberation Serif"', fill:'#000'}});
  graphics.push({type:'text', left:404, top:T-9, style:{text:'x10⁶', font:'14px "Liberation Serif"', fill:'#000'}});
});

const chart = echarts.init(document.getElementById('c'), null, {renderer:'canvas'});
chart.setOption({animation:false, backgroundColor:'#fff', grid:grids, xAxis:xAxes, yAxis:yAxes, series:series, graphic:graphics});
</script></body></html>
